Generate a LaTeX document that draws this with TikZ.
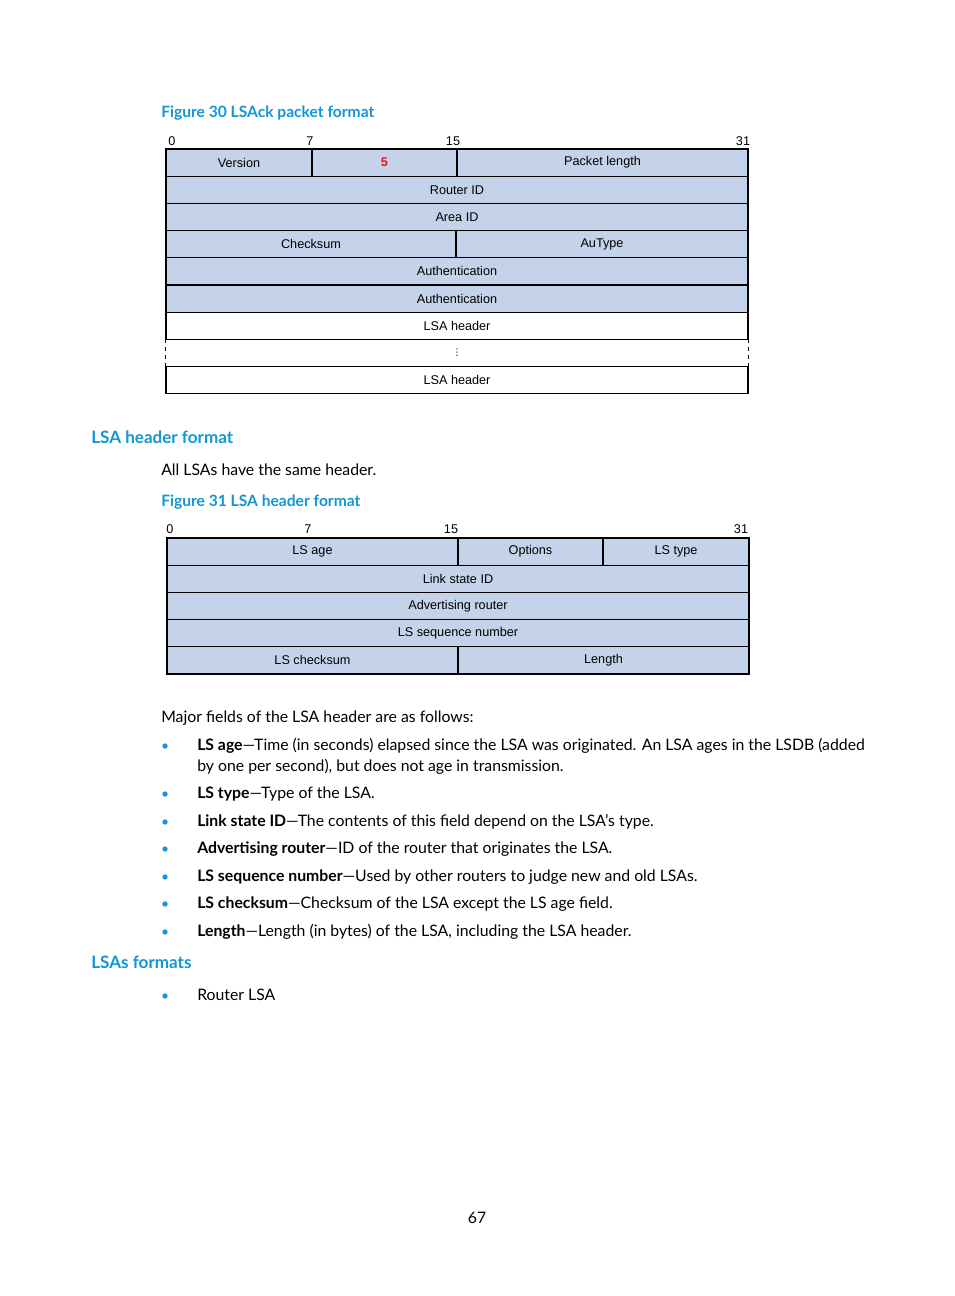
\documentclass[tikz,border=0pt]{standalone}
\usepackage{fontspec}
\setmainfont{Lato}
\newfontfamily\tablefont{Liberation Sans}
\newfontfamily\symfont{DejaVu Sans}
\usetikzlibrary{positioning}
\definecolor{hpblue}{RGB}{18,150,214}
\definecolor{cellfill}{RGB}{197,211,234}
\definecolor{fivered}{RGB}{240,20,20}

\begin{document}
\begin{tikzpicture}[
    x=0.75pt,y=-0.75pt,
    cellbox/.style={draw=black,line width=1pt,minimum height=20.4pt,inner sep=0pt,
      font=\tablefont\fontsize{9.5}{11}\selectfont},
    bluecell/.style={cellbox,fill=cellfill},
    whitecell/.style={cellbox,fill=white},
    bitnum/.style={font=\tablefont\fontsize{9.5}{11}\selectfont,inner sep=0pt,anchor=base},
    caption/.style={font=\bfseries\fontsize{11.7}{14}\selectfont,text=hpblue,inner sep=0pt,anchor=base west},
    heading/.style={font=\bfseries\fontsize{12.8}{15}\selectfont,text=hpblue,inner sep=0pt,anchor=base west},
    bodytext/.style={font=\fontsize{11.85}{14}\selectfont,inner sep=0pt,anchor=base west},
    bullet/.style={circle,fill=hpblue,inner sep=0pt,minimum size=4pt}
]
\fill[white] (0,0) rectangle (954,1296);
\useasboundingbox (0,0) rectangle (954,1296);

% Figure 30: LSAck packet
\node[caption] (cap30) at (161,117) {Figure 30 LSAck packet format};
\foreach \b/\x in {0/172,7/310,15/453,31/743}
  \node[bitnum] (ackbit\b) at (\x,145.5) {\b};

\node[bluecell,minimum width=109.5pt] (version) at (239,162.6) {Version};
\node[bluecell,minimum width=108.75pt,text=fivered,font=\tablefont\bfseries\fontsize{9.5}{11}\selectfont]
  (acktype) at (384.5,162.6) {5};
\node[bluecell,minimum width=218.25pt] (pktlen) at (602.5,162.6) {Packet length};
\foreach \k/\lab in {1/Router ID,2/Area ID,4/Authentication,5/Authentication}
  \node[bluecell,minimum width=436.5pt] (ack\k) at (457,{162.6+27.2*\k}) {\lab};
\node[bluecell,minimum width=217.5pt] (cksum) at (311,244.2) {Checksum};
\node[bluecell,minimum width=219pt] (autype) at (602,244.2) {AuType};
\node[whitecell,minimum width=436.5pt] (ack6) at (457,325.8) {LSA header};
\node[cellbox,draw=none,minimum width=436.5pt,font=\symfont\fontsize{7}{8}\selectfont]
  (ack7) at (457,353) {⋮};
\node[whitecell,minimum width=436.5pt] (ack8) at (457,380.2) {LSA header};
\draw[line width=0.8pt,dashed] (ack7.north west) -- (ack7.south west);
\draw[line width=0.8pt,dashed] (ack7.north east) -- (ack7.south east);

% LSA header format
\node[heading] (hdfmt) at (91,443) {LSA header format};
\node[bodytext] (sameline) at (161,475) {All LSAs have the same header.};
\node[caption] (cap31) at (161,506) {Figure 31 LSA header format};
\foreach \b/\x in {0/170,7/308,15/451,31/741}
  \node[bitnum] (hdrbit\b) at (\x,533.5) {\b};

\node[bluecell,minimum width=218.25pt] (lsage) at (312.5,551.6) {LS age};
\node[bluecell,minimum width=108.75pt] (options) at (530.5,551.6) {Options};
\node[bluecell,minimum width=109.5pt] (lstype) at (676,551.6) {LS type};
\foreach \k/\lab in {1/Link state ID,2/Advertising router,3/LS sequence number}
  \node[bluecell,minimum width=436.5pt] (hdr\k) at (458,{551.6+27.2*\k}) {\lab};
\node[bluecell,minimum width=218.25pt] (lscksum) at (312.5,660.4) {LS checksum};
\node[bluecell,minimum width=218.25pt] (length) at (603.5,660.4) {Length};

% field list
\node[bodytext] (major) at (161,722) {Major fields of the LSA header are as follows:};
\foreach \k/\y in {1/746,2/794,3/822,4/849,5/877,6/904,7/932,8/996}
  \node[bullet] (dot\k) at (165,\y) {};
\node[bodytext] (f1) at (197,750) {\textbf{LS age}---Time (in seconds) elapsed since the LSA was originated. An LSA ages in the LSDB (added};
\node[bodytext] (f1b) at (197,771) {by one per second), but does not age in transmission.};
\node[bodytext] (f2) at (197,798) {\textbf{LS type}---Type of the LSA.};
\node[bodytext] (f3) at (197,826) {\textbf{Link state ID}---The contents of this field depend on the LSA's type.};
\node[bodytext] (f4) at (197,853) {\textbf{Advertising router}---ID of the router that originates the LSA.};
\node[bodytext] (f5) at (197,881) {\textbf{LS sequence number}---Used by other routers to judge new and old LSAs.};
\node[bodytext] (f6) at (197,908) {\textbf{LS checksum}---Checksum of the LSA except the LS age field.};
\node[bodytext] (f7) at (197,936) {\textbf{Length}---Length (in bytes) of the LSA, including the LSA header.};

% LSAs formats
\node[heading] (lsafmt) at (91,968) {LSAs formats};
\node[bodytext] (rtrlsa) at (197,1000) {Router LSA};

\node[bodytext,anchor=base] (pagenum) at (477,1223) {67};
\end{tikzpicture}
\end{document}
